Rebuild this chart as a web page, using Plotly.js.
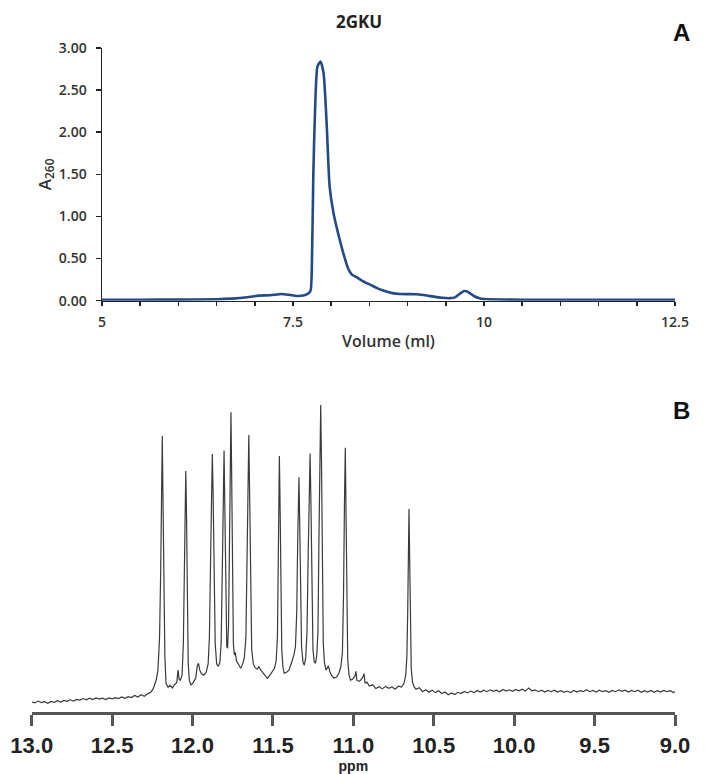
<!DOCTYPE html>
<html>
<head>
<meta charset="utf-8">
<script src="https://cdn.plot.ly/plotly-3.0.1.min.js"></script>
<style>html,body{margin:0;padding:0;background:#fff;}#chart{width:721px;height:774px;}</style>
</head>
<body>
<div id="chart"></div>
<script>
// Panel A: size-exclusion chromatogram of 2GKU
const volumeMl = [5.0, 5.5, 6.0, 6.5, 6.7, 6.9, 7.05, 7.2, 7.35, 7.45, 7.55, 7.65, 7.70, 7.73, 7.745, 7.766, 7.79, 7.82, 7.86, 7.90, 7.94, 7.98, 8.03, 8.09, 8.16, 8.22, 8.27, 8.33, 8.42, 8.51, 8.60, 8.68, 8.80, 8.90, 9.00, 9.12, 9.25, 9.34, 9.45, 9.55, 9.62, 9.68, 9.74, 9.78, 9.83, 9.88, 9.94, 10.0, 10.2, 10.5, 11.0, 11.5, 12.0, 12.5];
const a260 = [0.012, 0.012, 0.013, 0.018, 0.025, 0.04, 0.06, 0.065, 0.08, 0.07, 0.056, 0.065, 0.085, 0.12, 0.33, 1.50, 2.30, 2.78, 2.84, 2.70, 2.11, 1.35, 1.04, 0.80, 0.56, 0.385, 0.31, 0.28, 0.23, 0.19, 0.15, 0.12, 0.09, 0.08, 0.078, 0.076, 0.062, 0.048, 0.035, 0.03, 0.04, 0.08, 0.115, 0.11, 0.08, 0.05, 0.03, 0.02, 0.014, 0.012, 0.012, 0.012, 0.012, 0.012];
const xTicksA = [5, 7.5, 10, 12.5];
const xTickTextA = ["5", "7.5", "10", "12.5"];

// Panel B: 1H NMR imino region (arbitrary intensity)
const ppm = [13.00, 12.98, 12.96, 12.94, 12.92, 12.90, 12.88, 12.86, 12.84, 12.82, 12.80, 12.78, 12.76, 12.74, 12.72, 12.70, 12.68, 12.66, 12.64, 12.62, 12.60, 12.58, 12.56, 12.54, 12.52, 12.50, 12.48, 12.46, 12.44, 12.42, 12.40, 12.38, 12.36, 12.34, 12.32, 12.30, 12.28, 12.26, 12.245, 12.235, 12.225, 12.215,
 12.205, 12.198, 12.193, 12.188, 12.184, 12.179, 12.172, 12.165, 12.152, 12.14, 12.125, 12.11, 12.098, 12.09, 12.083, 12.075, 12.065,
 12.057, 12.05, 12.045, 12.042, 12.038, 12.033, 12.027, 12.02, 12.01, 11.995, 11.98, 11.97, 11.963, 11.955, 11.945, 11.93, 11.915, 11.903,
 11.895, 11.888, 11.882, 11.877, 11.872, 11.866, 11.859, 11.85, 11.84, 11.83, 11.822, 11.815, 11.809, 11.804, 11.799, 11.793, 11.787, 11.782,
 11.776, 11.770, 11.765, 11.761, 11.757, 11.752, 11.746, 11.74, 11.734, 11.727, 11.715, 11.70, 11.688, 11.678, 11.668, 11.661, 11.655, 11.65,
 11.645, 11.639, 11.632, 11.622, 11.61, 11.598, 11.588, 11.575, 11.56, 11.545, 11.535, 11.52, 11.505, 11.49, 11.48, 11.472, 11.467, 11.463, 11.46,
 11.456, 11.451, 11.445, 11.438, 11.43, 11.415, 11.40, 11.385, 11.37, 11.36, 11.352, 11.346, 11.341, 11.338, 11.334, 11.329, 11.322, 11.313, 11.305,
 11.296, 11.288, 11.281, 11.275, 11.269, 11.264, 11.258, 11.251, 11.243, 11.235, 11.227, 11.22, 11.214, 11.208, 11.203, 11.198, 11.193, 11.187,
 11.18, 11.17, 11.162, 11.155, 11.146, 11.135, 11.12, 11.105, 11.09, 11.078, 11.068, 11.061, 11.055, 11.05, 11.046, 11.041, 11.035, 11.027, 11.018,
 11.005, 10.99, 10.984, 10.978, 10.965, 10.952, 10.94, 10.934, 10.927, 10.915, 10.90, 10.88, 10.86, 10.84, 10.82, 10.80, 10.78, 10.76, 10.74, 10.72,
 10.70, 10.685, 10.674, 10.667, 10.662, 10.658, 10.654, 10.65, 10.646, 10.64, 10.632, 10.622, 10.61, 10.59, 10.57, 10.55, 10.53, 10.51, 10.49, 10.47,
 10.45, 10.43, 10.41, 10.39, 10.37, 10.35, 10.33, 10.31, 10.29, 10.27, 10.25, 10.23, 10.21, 10.19, 10.17, 10.15, 10.13, 10.11, 10.09, 10.07, 10.05,
 10.03, 10.01, 9.99, 9.97, 9.95, 9.93, 9.91, 9.89, 9.87, 9.85, 9.83, 9.81, 9.79, 9.77, 9.75, 9.73, 9.71, 9.69, 9.67, 9.65, 9.63, 9.61, 9.59, 9.57,
 9.55, 9.53, 9.51, 9.49, 9.47, 9.45, 9.43, 9.41, 9.39, 9.37, 9.35, 9.33, 9.31, 9.29, 9.27, 9.25, 9.23, 9.21, 9.19, 9.17, 9.15, 9.13, 9.11, 9.09,
 9.07, 9.05, 9.03, 9.01, 9.00];
const intensity = [3.3, 3.0, 3.6, 3.1, 3.4, 2.9, 3.5, 3.2, 3.7, 3.3, 3.8, 3.5, 4.0, 3.6, 4.1, 3.9, 4.4, 4.0, 4.5, 4.1, 4.6, 4.2, 4.5, 4.1, 4.6, 4.3, 4.7, 4.4, 4.9, 4.5, 5.0, 4.7, 5.4, 4.9, 5.6, 5.1, 5.9, 6.4, 7.5, 8.7, 10.5, 13.5,
 24, 45, 72, 88.5, 70, 40, 18, 9.3, 8.0, 8.6, 7.8, 9.0, 9.5, 13.5, 10.5, 10.3, 12,
 22, 50, 72, 77.3, 66, 38, 16, 10.3, 8.7, 9.6, 11, 15, 15.7, 13.5, 12.4, 11.9, 12.8, 15.5,
 24, 48, 72, 82.7, 70, 42, 22, 15.5, 14.7, 16, 22, 45, 72, 83.8, 65, 35, 21, 20.5,
 28, 55, 82, 96.1, 78, 42, 22, 18.3, 19.2, 16.5, 15.2, 14.1, 15.5, 17.5, 24, 45, 74, 88.8,
 70, 38, 20, 15.5, 14.2, 13.8, 14.6, 13.5, 12.5, 11.2, 10.9, 11.8, 13, 14.1, 16.5, 24, 48, 72, 82.1,
 68, 38, 20, 14.5, 12.5, 12.8, 13.6, 15.8, 18.3, 21, 32, 55, 70, 75.3, 62, 36, 21, 16, 15.1,
 17.5, 26, 50, 74, 82.9, 68, 38, 20, 16.2, 15.7, 18.5, 26, 55, 86, 98.4, 80, 45, 22,
 16, 13.5, 14.2, 14.9, 13, 11.8, 10.9, 11.3, 12.5, 14.5, 19, 38, 68, 84.7, 66, 35, 17, 12, 10.3,
 10.6, 11.6, 13.1, 10.2, 9.9, 10.4, 11.4, 12.4, 9.4, 9.6, 8.4, 8.8, 7.6, 8.2, 7.5, 8.3, 7.7, 8.1, 7.4, 8.4,
 8.1, 9.3, 12, 18, 32, 52, 65.1, 50, 28, 14, 9.6, 8.1, 7.4, 7.9, 6.6, 7.2, 6.4, 7.1, 6.3, 6.9,
 6.0, 6.5, 5.6, 6.2, 5.7, 6.4, 6.0, 6.7, 6.2, 6.8, 6.3, 7.0, 6.5, 7.1, 6.6, 7.2, 6.7, 7.1, 6.6, 7.3, 6.8,
 7.2, 6.7, 7.3, 6.9, 7.4, 6.8, 7.8, 6.9, 7.2, 6.6, 7.1, 6.5, 7.0, 6.6, 7.1, 6.5, 6.9, 6.4, 6.8, 6.3, 7.0, 6.5, 6.9, 6.6,
 7.2, 6.6, 7.0, 6.5, 7.1, 6.6, 6.9, 6.4, 7.0, 6.6, 7.2, 6.7, 7.1, 6.5, 7.0, 6.6, 7.1, 6.4, 6.9, 6.5, 7.0, 6.4, 6.9, 6.5,
 7.0, 6.6, 6.9, 6.3, 6.6];
const ppmTicks = [13.0, 12.5, 12.0, 11.5, 11.0, 10.5, 10.0, 9.5, 9.0];

const axisFontA = {family: "Open Sans, sans-serif", size: 14, color: "#333", weight: 600};

const traces = [
  {x: volumeMl, y: a260, type: "scatter", mode: "lines", xaxis: "x", yaxis: "y",
   line: {color: "#244a84", width: 2.6, shape: "spline", smoothing: 0.6}, hoverinfo: "x+y"},
  {x: ppm, y: intensity, type: "scatter", mode: "lines", xaxis: "x2", yaxis: "y2",
   line: {color: "#3a3a3a", width: 1.2}, hoverinfo: "x+y"}
];

const layout = {
  width: 721, height: 774,
  margin: {l: 0, r: 0, t: 0, b: 0},
  paper_bgcolor: "#fff", plot_bgcolor: "rgba(0,0,0,0)",
  showlegend: false,
  title: {text: "2GKU", x: 359/721, xanchor: "center", y: 1 - 22/774, yanchor: "middle",
          font: {family: "Open Sans, sans-serif", size: 17, color: "#222", weight: 700}},
  xaxis: {domain: [102/721, 675/721], range: [5, 12.5], tickmode: "array", tickvals: xTicksA, ticktext: xTickTextA,
          ticks: "outside", ticklen: 4, tickwidth: 1.5, tickcolor: "#222",
          minor: {dtick: 0.5, tick0: 5, ticks: "outside", ticklen: 4, tickwidth: 1.5, tickcolor: "#222"},
          showline: true, linecolor: "#222", linewidth: 1.5, showgrid: false, zeroline: false,
          tickfont: axisFontA, ticklabelstandoff: 4,
          title: {text: "Volume (ml)", font: {family: "Open Sans, sans-serif", size: 16, color: "#333", weight: 600}, standoff: 6},
          anchor: "y"},
  yaxis: {domain: [(774-300.7)/774, (774-48)/774], range: [0, 3], dtick: 0.5, tick0: 0, tickformat: ".2f",
          ticks: "outside", ticklen: 5, tickwidth: 1.5, tickcolor: "#222",
          showline: true, linecolor: "#222", linewidth: 1.5, showgrid: false, zeroline: false,
          tickfont: axisFontA, ticklabelstandoff: 6,
          title: {text: "A<sub>260</sub>", font: {family: "Open Sans, sans-serif", size: 17, color: "#333", weight: 600}, standoff: 3},
          anchor: "x"},
  xaxis2: {domain: [31.7/721, 675/721], range: [13, 9], tickmode: "array", tickvals: ppmTicks, tickformat: ".1f",
           ticks: "outside", ticklen: 11, tickwidth: 3, tickcolor: "#555",
           showline: true, linecolor: "#555", linewidth: 3, showgrid: false, zeroline: false,
           tickfont: {family: "Liberation Sans, Arial, sans-serif", size: 22, color: "#222", weight: 700}, ticklabelstandoff: 0,
           title: {text: "ppm", font: {family: "Liberation Sans, Arial, sans-serif", size: 14, color: "#222", weight: 700}, standoff: 4},
           anchor: "y2"},
  yaxis2: {domain: [(774-712.3)/774, (774-400)/774], range: [0, 100], visible: false, anchor: "x2"},
  annotations: [
    {text: "A", xref: "paper", yref: "paper", x: 681/721, y: 1 - 33/774, xanchor: "center", yanchor: "middle", showarrow: false,
     font: {family: "Liberation Sans, Arial, sans-serif", size: 24, color: "#111", weight: 700}},
    {text: "B", xref: "paper", yref: "paper", x: 681.7/721, y: 1 - 410.7/774, xanchor: "center", yanchor: "middle", showarrow: false,
     font: {family: "Liberation Sans, Arial, sans-serif", size: 24, color: "#111", weight: 700}}
  ]
};

Plotly.newPlot("chart", traces, layout, {displayModeBar: false, staticPlot: true});
</script>
</body>
</html>
